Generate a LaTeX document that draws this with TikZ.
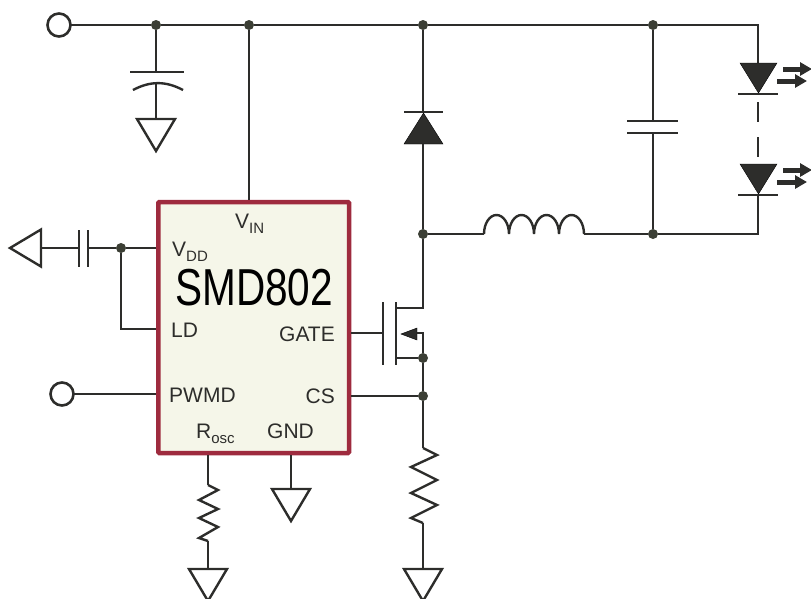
\documentclass[tikz,border=0pt]{standalone}
\usepackage{fontspec}
\setmainfont{Liberation Sans}
\usetikzlibrary{arrows.meta,shapes.geometric,calc}

\definecolor{wirecol}{HTML}{2D2D2B}
\definecolor{dotcol}{HTML}{3C3F35}
\definecolor{chipcol}{HTML}{9E2B3E}
\definecolor{chipfill}{HTML}{F5F6E9}

\newcommand{\lsub}[1]{\raisebox{-5pt}{\fontsize{15}{15}\selectfont #1}}

\tikzset{
  wire/.style={draw=wirecol,line width=2.4pt},
  plate/.style={draw=wirecol,line width=2pt},
  jdot/.style={circle,fill=dotcol,inner sep=0pt,minimum size=10pt},
  port/.style={circle,draw=wirecol,fill=white,line width=2.6pt,inner sep=0pt,minimum size=23pt,outer sep=0pt},
  gndtri/.style={isosceles triangle,isosceles triangle stretches,shape border rotate=-90,draw=wirecol,line width=2.4pt,
    inner sep=0pt,outer sep=0pt,minimum width=38pt,minimum height=32pt,anchor=lower side},
  difill/.style={fill=wirecol,line join=miter},
  pinlabel/.style={inner sep=0pt,text=wirecol,font=\fontsize{21}{21}\selectfont},
  lightray/.style={draw=wirecol,line width=5pt,-{Triangle[length=12pt,width=13pt]}}
}

\begin{document}
\begin{tikzpicture}[x=1pt,y=-1pt]
\useasboundingbox (0,0) rectangle (811,598);

\node (chip) [draw=chipcol,fill=chipfill,line width=4.5pt,rounded corners=1pt,minimum width=190.7pt,minimum height=251pt,inner sep=0pt] at (253.7,327.5) {};

\node (vinl) [pinlabel,anchor=base west] at (235,228) {V\lsub{IN}};
\node (vddl) [pinlabel,anchor=base west] at (172,256) {V\lsub{DD}};
\node (partl) [inner sep=0pt,anchor=base west,text=black,font=\fontsize{52}{52}\selectfont] at (175,305) {\scalebox{.78}[1]{SMD802}};
\node (ldl) [pinlabel,anchor=base west] at (171,337) {LD};
\node (gatel) [pinlabel,anchor=base east] at (335,341) {GATE};
\node (pwmdl) [pinlabel,anchor=base west] at (169,402) {PWMD};
\node (csl) [pinlabel,anchor=base east] at (335,403) {CS};
\node (roscl) [pinlabel,anchor=base west] at (196,438) {R\lsub{osc}};
\node (gndl) [pinlabel,anchor=base west] at (267,438) {GND};

% ------------------------------- top rail

\node (vin) [port] at (59,25) {};
\node (j1) [jdot] at (156,25) {};
\node (j2) [jdot] at (249,25) {};
\node (j3) [jdot] at (423,25) {};
\node (j4) [jdot] at (653,25) {};
\node (j5) [jdot] at (423,234) {};
\node (j6) [jdot] at (653,234) {};

\coordinate (c1top) at (156,71.5);
\coordinate (c1bot) at (156,84);
\node (g1) [gndtri] at (156,119) {};

\draw[wire] (vin) -- (j1) -- (j2) -- (j3) -- (j4);
\draw[wire] (j1) -- (c1top);
\draw[wire] (c1bot) -- (g1.lower side);
\draw[plate] (130,71.5) -- (184,71.5);
\draw[wire] (133,90) to[bend left=28] (183,90);
\draw[wire] (j2) -- (chip.north -| j2);

% ------------------------------- freewheel diode, inductor, output cap

\coordinate (d1k) at (423,112);
\coordinate (d1a) at (423,144);
\draw[wire] (j3) -- (d1k);
\draw[plate] (404,112) -- (443,112);
\draw[difill] (404,144) -- (443,144) -- (423.5,113) -- cycle;
\draw[wire] (d1a) -- (j5);

\coordinate (l1a) at (484,234);
\coordinate (l1b) at (584,234);
\draw[wire] (j5) -- (l1a);
\draw[wire] (l1a) \foreach \n in {1,...,4} {arc[start angle=180,end angle=0,x radius=12.5pt,y radius=19pt]};
\draw[wire] (l1b) -- (j6);

\coordinate (c2top) at (653,120.5);
\coordinate (c2bot) at (653,132.5);
\draw[wire] (j4) -- (c2top);
\draw[plate] (627,120.5) -- (678,120.5);
\draw[plate] (627,132.5) -- (678,132.5);
\draw[wire] (c2bot) -- (j6);

% ------------------------------- LED string

\coordinate (led1) at (758,63);
\coordinate (led2) at (758,195);
\draw[wire] (j4) -- (758,25) -- (led1);
\draw[wire] (j6) -- (758,234) -- (led2);
\foreach \y in {63,164} {
  \draw[difill] (740,\y) -- (777,\y) -- (758.5,\y+30) -- cycle;
  \draw[plate] (738,\y+31) -- (778,\y+31);
  \draw[lightray] (783,\y+6) -- (812,\y+6);
  \draw[lightray] (777,\y+18) -- (807,\y+18);
}
\draw[wire] (758,102) -- (758,122);
\draw[wire] (758,137) -- (758,157);

% ------------------------------- left side pins

\node (j7) [jdot] at (121,248) {};
\node (g2) [gndtri,shape border rotate=180,minimum width=37pt,minimum height=31pt] at (41,248) {};
\coordinate (c3l) at (78.5,248);
\coordinate (c3r) at (88,248);
\draw[wire] (j7) -- (chip.west |- j7);
\draw[wire] (j7) -- (c3r);
\draw[wire] (c3l) -- (g2.lower side);
\draw[plate] (78.5,230) -- (78.5,267);
\draw[plate] (88,230) -- (88,267);
\draw[wire] (j7) |- (chip.west |- 0,329);

\node (pwmd) [port] at (62,394) {};
\draw[wire] (pwmd) -- (chip.west |- pwmd);

% ------------------------------- MOSFET and sense resistor

\coordinate (mg) at (383,333);
\coordinate (md) at (396,308);
\coordinate (ms) at (396,358);
\node (j8) [jdot] at (423,358) {};
\node (j9) [jdot] at (423,396) {};
\draw[wire] (chip.east |- mg) -- (mg);
\draw[plate] (383,302) -- (383,365);
\draw[plate] (396,302) -- (396,365);
\draw[wire] (md) -| (j5);
\draw[wire] (ms) -- (j8);
\draw[difill] (401,334) -- (417,328) -- (417,340) -- cycle;
\draw[wire] (417,333) -| (j8);
\draw[wire] (chip.east |- j9) -- (j9);
\draw[wire] (j8) -- (j9);

\coordinate (r1a) at (423,448);
\coordinate (r1b) at (423,523);
\node (g3) [gndtri] at (423,569) {};
\draw[wire] (j9) -- (r1a);
\draw[wire] (r1a) -- (437,455) -- (411,467) -- (437,480) -- (411,493) -- (437,505) -- (411,518) -- (r1b);
\draw[wire] (r1b) -- (g3.lower side);

% ------------------------------- bottom pins

\coordinate (r2a) at (208,485);
\coordinate (r2b) at (208,541);
\node (g4) [gndtri] at (208,569) {};
\draw[wire] (chip.south -| r2a) -- (r2a);
\draw[wire] (r2a) -- (218,490) -- (199,500) -- (218,509) -- (199,518) -- (218,527) -- (199,538) -- (r2b);
\draw[wire] (r2b) -- (g4.lower side);

\node (g5) [gndtri] at (291,489) {};
\draw[wire] (chip.south -| g5.lower side) -- (g5.lower side);

\end{tikzpicture}
\end{document}
